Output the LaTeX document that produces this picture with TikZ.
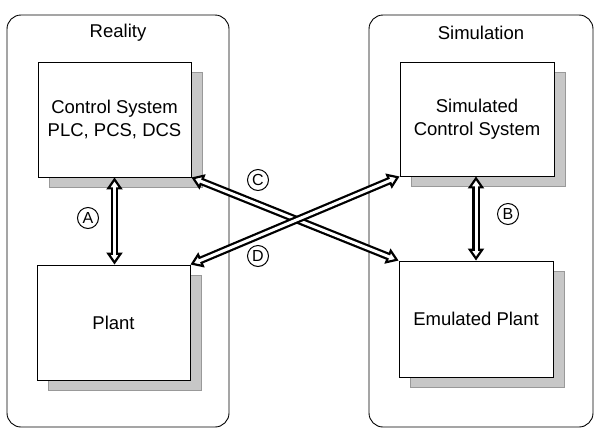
\documentclass[tikz,border=0pt]{standalone}
\usepackage{fontspec}
\setmainfont{Liberation Sans}
\usetikzlibrary{arrows.meta,shadows}
\begin{document}
\begin{tikzpicture}[x=1pt,y=-1pt,
  container/.style={draw, line width=0.9pt, rounded corners=14pt, minimum width=#1, minimum height=412pt, inner sep=0pt},
  title/.style={font=\fontsize{18.5}{22}\selectfont, inner sep=0pt},
  blockbox/.style={draw, fill=white, line width=0.9pt, minimum width=153pt, minimum height=115pt,
    align=center, inner sep=0pt, font=\fontsize{18.5}{23}\selectfont,
    general shadow={fill=black!22, draw=black!40, line width=0.5pt, shadow xshift=11.5pt, shadow yshift=-10.5pt}},
  dblarrow/.style={line width=7.5pt,
    {Triangle[fill=white,length=12pt,width=16pt,line width=2.2pt]}-{Triangle[fill=white,length=12pt,width=16pt,line width=2.2pt]},
    postaction={draw=white, line width=3pt, arrows=-, shorten <=6.5pt, shorten >=6.5pt}},
  lbl/.style={draw, circle, line width=1pt, minimum size=21pt, inner sep=0pt, font=\fontsize{16}{16}\selectfont}
]
\useasboundingbox (0,0) rectangle (596,434);

\node[container=222pt] (real) at (118,221) {};
\node[container=224pt] (sim) at (481,221) {};
\node[title] (realt) at (118,33) {Reality};
\node[title] (simt) at (481,33) {Simulation};

\node[blockbox] (cs) at (114.5,119.5) {Control System\\PLC, PCS, DCS};
\node[blockbox, minimum width=154pt, minimum height=114pt] (scs) at (477,119) {Simulated\\Control System};
\node[blockbox] (plant) at (113.5,322.5) {Plant};
\node[blockbox, minimum width=154pt, minimum height=116pt] (emu) at (476,319) {Emulated Plant};

\draw[dblarrow] (cs.south) -- (cs.south |- plant.north);
\draw[dblarrow] (emu.north |- scs.south) -- (emu.north);
\draw[dblarrow] (cs.south east) -- (emu.north west);
\draw[dblarrow] (plant.north east) -- (scs.south west);

\node[lbl] (la) at (88,218) {A};
\node[lbl] (lb) at (508,214) {B};
\node[lbl] (lc) at (258,180) {C};
\node[lbl] (ld) at (258,256) {D};
\end{tikzpicture}
\end{document}
